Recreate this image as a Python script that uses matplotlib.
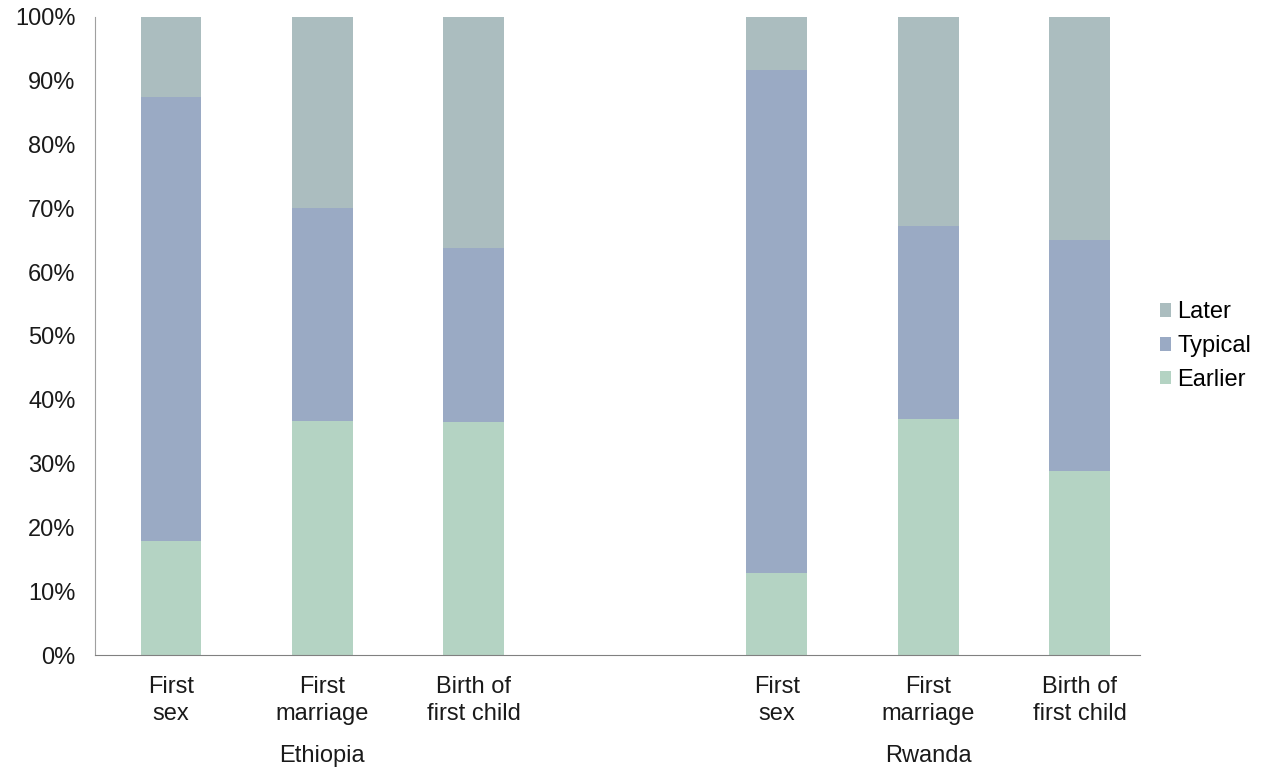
import matplotlib.pyplot as plt
import numpy as np

plt.rcParams['font.family'] = ['Liberation Sans', 'DejaVu Sans']

countries = ["Ethiopia", "Rwanda"]
events = ["First\nsex", "First\nmarriage", "Birth of\nfirst child"]

# percent of respondents per timing group, Ethiopia then Rwanda
earlier = [17.9, 36.7, 36.5, 12.9, 37.0, 28.8]
typical = [69.6, 33.4, 27.3, 78.8, 30.2, 36.2]
later = [12.5, 29.9, 36.2, 8.3, 32.8, 35.0]

colors = {"Earlier": "#b4d3c3", "Typical": "#9aaac4", "Later": "#abbdbf"}

x = np.array([0, 1, 2, 4, 5, 6])
fig = plt.figure(figsize=(12.64, 7.67), dpi=100)
ax = fig.add_axes([0.0752, 0.146, 0.827, 0.832])

w = 0.4
ax.bar(x, earlier, w, color=colors["Earlier"], label="Earlier")
ax.bar(x, typical, w, bottom=earlier, color=colors["Typical"], label="Typical")
ax.bar(x, later, w, bottom=np.add(earlier, typical), color=colors["Later"],
       label="Later")

fs = 17
ax.set_xlim(-0.5, 6.4)
ax.set_ylim(0, 100)
ax.set_yticks(range(0, 101, 10))
ax.set_yticklabels([f"{v}%" for v in range(0, 101, 10)], fontsize=fs, color="#1a1a1a")
ax.set_xticks(x)
ax.set_xticklabels(events * 2, fontsize=fs, color="#1a1a1a", linespacing=1.3)
ax.tick_params(axis="y", length=0, pad=14)
ax.tick_params(axis="x", length=0, pad=15)

for s in ["top", "right"]:
    ax.spines[s].set_visible(False)
ax.spines["left"].set_color("#a0a0a0")
ax.spines["bottom"].set_color("#808080")

for i, c in enumerate(countries):
    ax.text(x[i * 3 + 1], -15.8, c, ha="center", va="center", fontsize=fs,
            color="#1a1a1a")

h, l = ax.get_legend_handles_labels()
ax.legend(h[::-1], l[::-1], loc="center left", bbox_to_anchor=(0.998, 0.484),
          frameon=False, fontsize=fs, handlelength=0.5, handleheight=0.5,
          handletextpad=0.25, labelspacing=0.5)

fig.savefig("out.png", dpi=100)
